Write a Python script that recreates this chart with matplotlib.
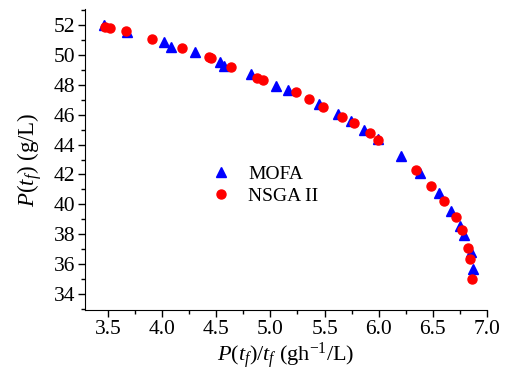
import matplotlib
matplotlib.use("Agg")
import matplotlib.pyplot as plt
from matplotlib.ticker import MultipleLocator

plt.rcParams['font.family'] = ['Liberation Serif', 'DejaVu Serif']
plt.rcParams['mathtext.fontset'] = 'custom'
plt.rcParams['mathtext.rm'] = 'Liberation Serif'
plt.rcParams['mathtext.it'] = 'Liberation Serif:italic'
plt.rcParams['mathtext.bf'] = 'Liberation Serif:bold'

mofa_x = [3.46, 3.68, 4.02, 4.08, 4.30, 4.535, 4.575, 4.82, 5.055, 5.16,
          5.45, 5.625, 5.74, 5.86, 5.995, 6.21, 6.38, 6.555, 6.67, 6.75,
          6.79, 6.85, 6.87]
mofa_y = [52.0, 51.55, 50.85, 50.5, 50.18, 49.53, 49.25, 48.75, 47.95, 47.65,
          46.69, 46.07, 45.55, 45.0, 44.35, 43.22, 42.07, 40.73, 39.58, 38.55,
          37.95, 36.78, 35.67]

nsga_x = [3.47, 3.52, 3.665, 3.91, 4.18, 4.43, 4.45, 4.64, 4.875, 4.93,
          5.24, 5.36, 5.49, 5.66, 5.775, 5.915, 5.99, 6.34, 6.48, 6.60,
          6.71, 6.765, 6.825, 6.845, 6.86]
nsga_y = [51.9, 51.8, 51.6, 51.09, 50.49, 49.89, 49.78, 49.22, 48.45, 48.33,
          47.51, 47.07, 46.51, 45.85, 45.42, 44.78, 44.33, 42.27, 41.22, 40.22,
          39.13, 38.25, 37.09, 36.31, 34.98]

fig = plt.figure(figsize=(5.1, 3.78), dpi=100)
ax = fig.add_axes([0.167, 0.18, 0.788, 0.796])

ax.plot(mofa_x, mofa_y, linestyle='none', marker='^', color='#0000ff',
        markersize=7.5, label='MOFA')
ax.plot(nsga_x, nsga_y, linestyle='none', marker='o', color='#ff0000',
        markersize=6.5, label='NSGA II')

ax.set_xlim(3.29, 7.0)
ax.set_ylim(32.93, 53.07)
ax.xaxis.set_major_locator(MultipleLocator(0.5))
ax.xaxis.set_minor_locator(MultipleLocator(0.25))
ax.yaxis.set_major_locator(MultipleLocator(2))
ax.yaxis.set_minor_locator(MultipleLocator(1))
ax.xaxis.set_major_formatter(plt.FuncFormatter(lambda v, p: f"{v:.1f}"))

for s in ['top', 'right']:
    ax.spines[s].set_visible(False)
ax.tick_params(which='major', direction='out', length=5, width=1, labelsize=15.5, pad=2)
ax.tick_params(which='minor', direction='out', length=3, width=1)

ax.set_xlabel(r'$P(t_f)/t_f$ (gh$^{\mathregular{-1}}$/L)', fontsize=16, labelpad=1)
ax.set_ylabel(r'$P(t_f)$ (g/L)', fontsize=16.5, labelpad=7)

ax.legend(loc='upper left', bbox_to_anchor=(0.29, 0.48), frameon=False,
          fontsize=14, handletextpad=0.4, labelspacing=0.2, borderaxespad=0,
          borderpad=0)

fig.savefig('out.png', dpi=100)
